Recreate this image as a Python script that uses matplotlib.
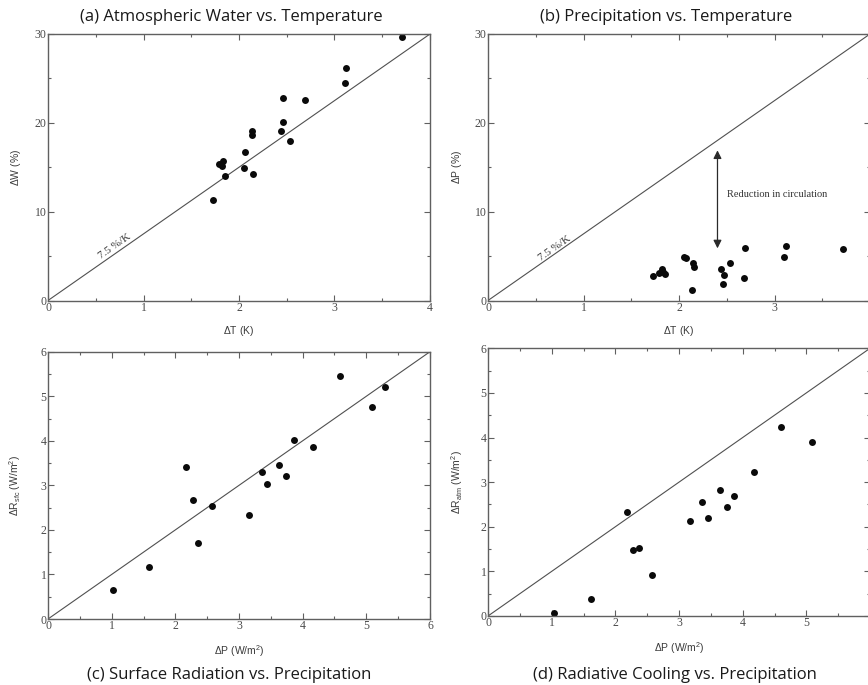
import matplotlib
matplotlib.use("Agg")
import matplotlib.pyplot as plt
import numpy as np
from matplotlib.ticker import MultipleLocator

# ---------------- data ----------------
# (a) Atmospheric water vs temperature
a_dT = [3.71, 3.12, 3.11, 2.46, 2.69, 2.46, 2.14, 2.14, 2.44, 2.53, 2.06,
        1.79, 1.83, 1.82, 1.85, 2.05, 2.15, 1.73]
a_dW = [29.7, 26.2, 24.5, 22.8, 22.6, 20.1, 19.1, 18.6, 19.1, 17.9, 16.7,
        15.4, 15.7, 15.1, 14.0, 14.9, 14.2, 11.3]

# (b) Precipitation vs temperature
b_dT = [3.72, 3.12, 3.10, 2.69, 2.53, 2.44, 2.47, 2.46, 2.68, 2.05, 2.07,
        2.15, 2.16, 2.14, 1.82, 1.83, 1.85, 1.79, 1.73]
b_dP = [5.84, 6.17, 4.90, 5.87, 4.23, 3.55, 2.88, 1.91, 2.51, 4.94, 4.83,
        4.19, 3.74, 1.16, 3.59, 3.25, 3.03, 3.07, 2.73]

# (c) Surface radiation vs precipitation
c_dP = [1.02, 1.59, 2.17, 2.27, 2.36, 2.57, 3.16, 3.36, 3.44, 3.63, 3.74,
        3.86, 4.17, 4.59, 5.09, 5.30]
c_dR = [0.64, 1.16, 3.42, 2.66, 1.70, 2.53, 2.33, 3.31, 3.03, 3.45, 3.22,
        4.01, 3.85, 5.45, 4.75, 5.20]

# (d) Radiative cooling vs precipitation
d_dP = [1.03, 1.61, 2.19, 2.28, 2.37, 2.58, 3.17, 3.36, 3.45, 3.64, 3.75,
        3.86, 4.18, 4.60, 5.09]
d_dR = [0.06, 0.37, 2.34, 1.48, 1.52, 0.91, 2.13, 2.56, 2.19, 2.82, 2.45,
        2.70, 3.23, 4.23, 3.89]

titles = ["(a) Atmospheric Water vs. Temperature",
          "(b) Precipitation vs. Temperature",
          "(c) Surface Radiation vs. Precipitation",
          "(d) Radiative Cooling vs. Precipitation"]
slope_label = "7.5 %/K"
arrow_text = "Reduction in circulation"
cc_rate = 7.5  # %/K

# ---------------- style ----------------
W, H = 868, 685
plt.rcParams['mathtext.fontset'] = 'custom'
plt.rcParams['mathtext.rm'] = 'Liberation Sans'
plt.rcParams['mathtext.it'] = 'Liberation Sans:italic'

fig = plt.figure(figsize=(W / 100, H / 100), dpi=100)
fig.patch.set_facecolor('white')

FRAME = '#606060'
TICKC = '#4a4a4a'
LINEC = '#505050'
DOT = '#0a0a0a'


def px_axes(left, top, right, bottom):
    return fig.add_axes([left / W, 1 - bottom / H, (right - left) / W, (bottom - top) / H])


def style(ax, xmax, ymax, xmaj, xmin, ymaj, ymin, hide_last_x=False):
    ax.set_xlim(0, xmax)
    ax.set_ylim(0, ymax)
    ax.xaxis.set_major_locator(MultipleLocator(xmaj))
    ax.xaxis.set_minor_locator(MultipleLocator(xmin))
    ax.yaxis.set_major_locator(MultipleLocator(ymaj))
    ax.yaxis.set_minor_locator(MultipleLocator(ymin))
    for s in ax.spines.values():
        s.set_color(FRAME)
        s.set_linewidth(1.0)
    ax.tick_params(which='both', direction='in', top=True, right=True,
                   color=FRAME, labelcolor=TICKC, labelsize=8.5)
    ax.tick_params(which='major', length=4.5, width=0.8, pad=1.0)
    ax.tick_params(which='minor', length=2.4, width=0.8)
    if hide_last_x:
        ticks = np.arange(0, xmax + 0.01, xmaj)
        ax.set_xticks(ticks)
        ax.set_xticklabels([f"{t:g}" for t in ticks[:-1]] + [""])
    for lab in ax.get_xticklabels() + ax.get_yticklabels():
        lab.set_family('Liberation Serif')


def labels(ax, xl, yl, xly, ylx):
    ax.set_xlabel(xl, fontsize=7.5, family='Liberation Sans', color='#3a3a3a', va='center')
    ax.set_ylabel(yl, fontsize=7.5, family='Liberation Sans', color='#3a3a3a', va='center')
    ax.xaxis.set_label_coords(0.5, xly)
    ax.yaxis.set_label_coords(ylx, 0.5)


ang = np.degrees(np.arctan((266.5 / 30 * 7.5) / (382 / 4)))

# (a)
ax = px_axes(48, 34, 430, 300.5)
xx = np.array([0, 4])
ax.plot(xx, cc_rate * xx, color=LINEC, lw=0.8)
ax.plot(a_dT, a_dW, 'o', color=DOT, ms=5, mec='none')
style(ax, 4, 30, 1, 0.5, 10, 5)
labels(ax, r'$\Delta$T (K)', r'$\Delta$W (%)', -0.114, -0.084)
ax.text(0.70, 6.07, slope_label, rotation=ang, ha='center', va='center',
        fontsize=8, family='Liberation Serif', color='#333333')

# (b)
ax = px_axes(488, 34, 870, 300.5)
ax.plot(xx, cc_rate * xx, color=LINEC, lw=0.8)
ax.plot(b_dT, b_dP, 'o', color=DOT, ms=5, mec='none')
style(ax, 4, 30, 1, 0.5, 10, 5, hide_last_x=True)
labels(ax, r'$\Delta$T (K)', r'$\Delta$P (%)', -0.114, -0.082)
ax.text(0.70, 5.87, slope_label, rotation=ang, ha='center', va='center',
        fontsize=8, family='Liberation Serif', color='#333333')
ax.annotate('', xy=(2.403, 16.9), xytext=(2.403, 5.87),
            arrowprops=dict(arrowstyle='<|-|>', color='#2a2a2a', lw=0.9,
                            mutation_scale=12, shrinkA=0, shrinkB=0))
ax.text(2.50, 11.97, arrow_text, ha='left', va='center', fontsize=7.5,
        family='Liberation Serif', color='#333333')

# (c)
ax = px_axes(48, 351.7, 430, 619)
x6 = np.array([0, 6])
ax.plot(x6, x6, color=LINEC, lw=0.8)
ax.plot(c_dP, c_dR, 'o', color=DOT, ms=5, mec='none')
style(ax, 6, 6, 1, 0.5, 1, 0.5)
labels(ax, r'$\Delta$P (W/m$^2$)', r'$\Delta$R$_{\rm sfc}$ (W/m$^2$)', -0.119, -0.086)

# (d)
ax = px_axes(488, 348.3, 870, 616)
ax.plot(x6, x6, color=LINEC, lw=0.8)
ax.plot(d_dP, d_dR, 'o', color=DOT, ms=5, mec='none')
style(ax, 6, 6, 1, 0.5, 1, 0.5, hide_last_x=True)
labels(ax, r'$\Delta$P (W/m$^2$)', r'$\Delta$R$_{\rm atm}$ (W/m$^2$)', -0.119, -0.082)

# titles
tkw = dict(ha='center', va='center', fontsize=12, family='Open Sans', color='#1a1a1a')
fig.text(231 / W, 1 - 16.7 / H, titles[0], **tkw)
fig.text(666 / W, 1 - 16.7 / H, titles[1], **tkw)
fig.text(229.5 / W, 1 - 675 / H, titles[2], **tkw)
fig.text(674.5 / W, 1 - 675 / H, titles[3], **tkw)

fig.savefig('out.png', dpi=100, facecolor='white')
